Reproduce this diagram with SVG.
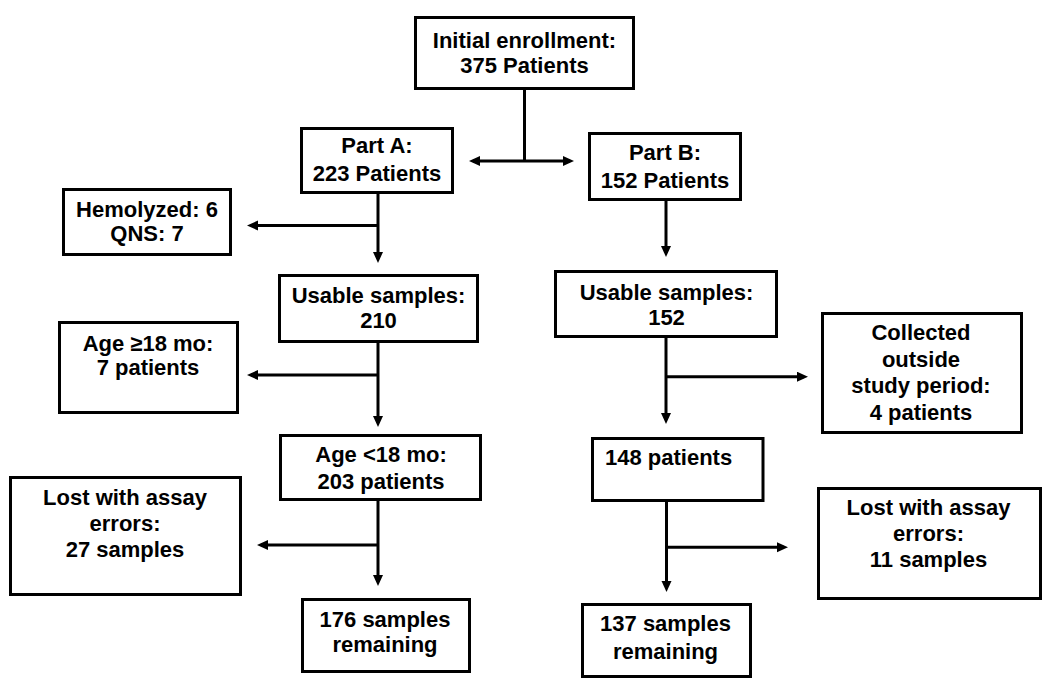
<svg xmlns="http://www.w3.org/2000/svg" width="1050" height="687" viewBox="0 0 1050 687">
<defs>
<style>
.box{fill:#fff;stroke:#000;stroke-width:3}
.t{font-family:"Liberation Sans",Arial,sans-serif;font-size:22px;font-weight:bold;fill:#000;text-anchor:middle}
.c{fill:none;stroke:#000;stroke-width:3}
</style>
<marker id="ah" markerUnits="userSpaceOnUse" markerWidth="12" markerHeight="11" refX="7" refY="5" orient="auto-start-reverse">
<path d="M0,0 L11,5 L0,10 z" fill="#000"/>
</marker>
</defs>
<rect width="1050" height="687" fill="#fff"/>
<g id="connectors">
<path class="c" d="M524.5,90 V161"/>
<path class="c" d="M473,161 H570" marker-start="url(#ah)" marker-end="url(#ah)"/>
<path class="c" d="M378,194 V259" marker-end="url(#ah)"/>
<path class="c" d="M378,225.5 H251" marker-end="url(#ah)"/>
<path class="c" d="M378,343 V423" marker-end="url(#ah)"/>
<path class="c" d="M378,375 H251" marker-end="url(#ah)"/>
<path class="c" d="M378,501 V582" marker-end="url(#ah)"/>
<path class="c" d="M378,545 H261" marker-end="url(#ah)"/>
<path class="c" d="M666,201 V253" marker-end="url(#ah)"/>
<path class="c" d="M666,338 V420" marker-end="url(#ah)"/>
<path class="c" d="M666,376.7 H804" marker-end="url(#ah)"/>
<path class="c" d="M666.5,502 V588" marker-end="url(#ah)"/>
<path class="c" d="M666.5,547.3 H784" marker-end="url(#ah)"/>
</g>
<g id="init"><rect class="box" x="415.5" y="17.5" width="218" height="71"/>
<text class="t" x="524.5" y="48">Initial enrollment:</text><text class="t" x="524.5" y="73">375 Patients</text></g>
<g id="partA"><rect class="box" x="301.5" y="128.5" width="151" height="64"/>
<text class="t" x="377" y="153">Part A:</text><text class="t" x="377" y="181">223 Patients</text></g>
<g id="partB"><rect class="box" x="589.5" y="133.5" width="151" height="66"/>
<text class="t" x="665" y="160">Part B:</text><text class="t" x="665" y="188">152 Patients</text></g>
<g id="hemo"><rect class="box" x="63.5" y="189.5" width="167" height="65"/>
<text class="t" x="147" y="216.5">Hemolyzed: 6</text><text class="t" x="147" y="240.5">QNS: 7</text></g>
<g id="usableA"><rect class="box" x="279.5" y="275.5" width="198" height="66"/>
<text class="t" x="378.5" y="302.5">Usable samples:</text><text class="t" x="378.5" y="327.5">210</text></g>
<g id="ageGE"><rect class="box" x="59.5" y="322.5" width="178" height="90"/>
<text class="t" x="148" y="351">Age ≥18 mo:</text><text class="t" x="148" y="375">7 patients</text></g>
<g id="ageLT"><rect class="box" x="280.5" y="435.5" width="200" height="64"/>
<text class="t" x="381" y="462">Age &lt;18 mo:</text><text class="t" x="381" y="489">203 patients</text></g>
<g id="lost27"><rect class="box" x="10.5" y="477.5" width="230" height="117"/>
<text class="t" x="125" y="505">Lost with assay</text><text class="t" x="125" y="530.5">errors:</text><text class="t" x="125" y="556.5">27 samples</text></g>
<g id="s176"><rect class="box" x="302.5" y="599.5" width="167" height="72"/>
<text class="t" x="385" y="626.5">176 samples</text><text class="t" x="385" y="652">remaining</text></g>
<g id="usableB"><rect class="box" x="555.5" y="271.5" width="221" height="65"/>
<text class="t" x="666.5" y="299.5">Usable samples:</text><text class="t" x="666.5" y="325">152</text></g>
<g id="collected"><rect class="box" x="822.5" y="313.5" width="199" height="119"/>
<text class="t" x="921" y="340">Collected</text><text class="t" x="921" y="366.5">outside</text><text class="t" x="921" y="393">study period:</text><text class="t" x="921" y="420">4 patients</text></g>
<g id="p148"><rect class="box" x="592.5" y="438.5" width="170.5" height="62"/>
<text class="t" x="605" y="465" style="text-anchor:start">148 patients</text></g>
<g id="lost11"><rect class="box" x="818.5" y="488.5" width="222" height="110"/>
<text class="t" x="928.5" y="514.5">Lost with assay</text><text class="t" x="928.5" y="540.5">errors:</text><text class="t" x="928.5" y="566.5">11 samples</text></g>
<g id="s137"><rect class="box" x="582.5" y="604.5" width="168" height="72"/>
<text class="t" x="665.5" y="630.5">137 samples</text><text class="t" x="665.5" y="659">remaining</text></g>
</svg>
